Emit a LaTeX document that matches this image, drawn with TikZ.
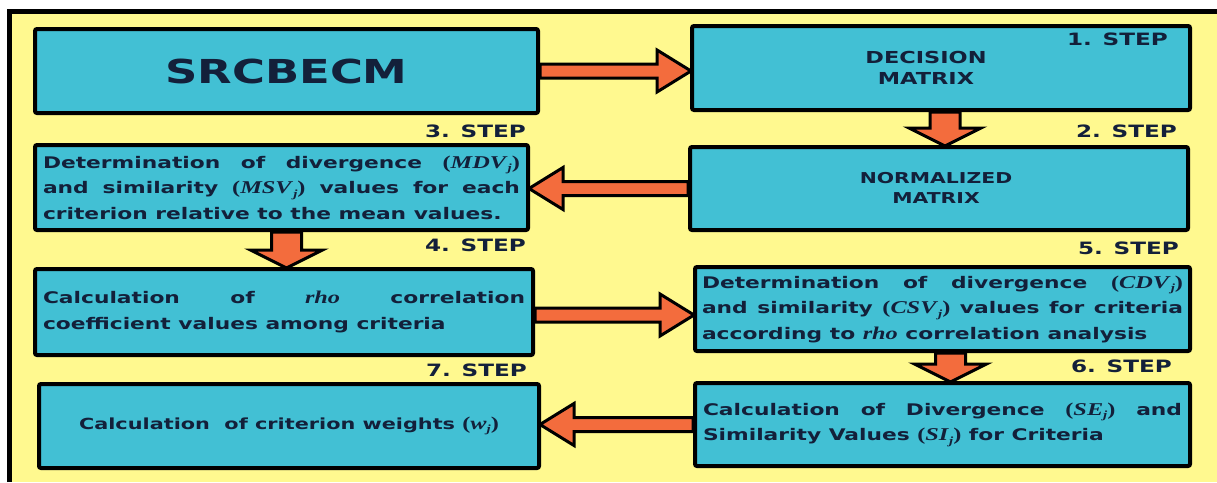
\documentclass[tikz,border=0pt]{standalone}
\usepackage{fontspec}
\setmainfont{DejaVu Sans}[FakeStretch=1.36]
\newfontfamily\mathlike{Liberation Serif}[FakeStretch=1.35]
\usepackage{graphicx}
\usetikzlibrary{calc}
\definecolor{bgyellow}{HTML}{FFF98F}
\definecolor{boxcyan}{HTML}{42C0D4}
\definecolor{arrowor}{HTML}{F36C3D}
\definecolor{navy}{HTML}{13203A}
\newcommand{\mth}[2]{{\mathlike\fontsize{18}{20}\selectfont\bfseries(\textit{#1}\raisebox{-3.5pt}{\fontsize{11}{11}\selectfont\textit{#2}})}}
\newcommand{\mthv}[1]{{\mathlike\fontsize{18}{20}\selectfont\bfseries\itshape #1}}
\newcommand{\bodyfnt}{\fontsize{16}{25.5}\selectfont\bfseries}
\newcommand{\stepfnt}{\fontsize{17}{20}\selectfont\bfseries}
\tikzset{
  box/.style={draw=black, line width=4pt, fill=boxcyan, rounded corners=2pt,
    inner sep=0pt, text=navy, font=\bodyfnt},
  jbox/.style={box, inner xsep=8pt, align=justify},
  steplbl/.style={font=\stepfnt, text=navy, anchor=base east, inner sep=0pt},
  caplbl/.style={text=navy, align=center, inner sep=0pt},
  barrow/.style={fill=arrowor, draw=black, line width=3pt, line join=miter},
}
\begin{document}
\begin{tikzpicture}[x=1pt,y=-1pt]
\useasboundingbox (0,0) rectangle (1217,482);
\fill[white] (0,0) rectangle (1217,482);
\fill[bgyellow] (9.5,11.5) rectangle (1217,482);
\draw[line width=4.5pt] (9.5,482) -- (9.5,11.5) -- (1217,11.5);

% boxes
\node[box, minimum width=503pt, minimum height=84pt] (A) at (286.5,71)
  {\fontsize{33}{40}\selectfont\bfseries SRCBECM};
\node[box, minimum width=498pt, minimum height=84pt] (B) at (941,68) {};
\node[caplbl, font=\fontsize{16.5}{21}\selectfont\bfseries] (Bt) at (926,68) {DECISION\\MATRIX};
\node[box, minimum width=498pt, minimum height=83pt] (B2) at (939,188.5) {};
\node[caplbl, font=\fontsize{15}{20}\selectfont\bfseries] (B2t) at (936,188) {NORMALIZED\\MATRIX};
\node[jbox, text width=477pt, minimum height=85pt] (C) at (281.5,187.5)
  {Determination of divergence \mth{MDV}{j}\linebreak
   and similarity \mth{MSV}{j} values for each\linebreak
   criterion relative to the mean values.};
\node[jbox, text width=482pt, minimum height=86pt] (D) at (284,312)
  {Calculation of \mthv{rho} correlation\linebreak
   coefficient values among criteria};
\node[jbox, text width=481pt, inner xsep=7pt, minimum height=84pt] (E) at (942.5,309)
  {Determination of divergence \mth{CDV}{j}\linebreak
   and similarity \mth{CSV}{j} values for criteria\linebreak
   according to \mthv{rho} correlation analysis};
\node[jbox, text width=479pt, minimum height=83pt] (F) at (942.5,424.5)
  {Calculation of Divergence \mth{SE}{j} and\linebreak
   Similarity Values \mth{SI}{j} for Criteria};
\node[box, minimum width=500pt, minimum height=84pt, font=\fontsize{15.3}{20}\selectfont\bfseries] (G) at (289,426)
  {Calculation\ \ of criterion weights \mth{w}{j}};

% step labels
\node[steplbl] (s1) at (1168,45) {1. STEP};
\node[steplbl] (s2) at (1177,137) {2. STEP};
\node[steplbl] (s3) at (526,137) {3. STEP};
\node[steplbl] (s4) at (526,251) {4. STEP};
\node[steplbl] (s5) at (1179,254) {5. STEP};
\node[steplbl] (s6) at (1172,372) {6. STEP};
\node[steplbl] (s7) at (527,376) {7. STEP};

% horizontal arrows (to the right)
\draw[barrow] let \p1=(A.east), \p2=(B.west) in
  (\x1,\y1+7pt) -- (\x2-33pt,\y1+7pt) -- (\x2-33pt,\y1+21pt) -- (\x2+1pt,\y1)
  -- (\x2-33pt,\y1-21pt) -- (\x2-33pt,\y1-7pt) -- (\x1,\y1-7pt) -- cycle;
\draw[barrow] let \p1=($(D.east)+(0,3)$), \p2=(E.west) in
  (\x1,\y1+7pt) -- (\x2-33pt,\y1+7pt) -- (\x2-33pt,\y1+21pt) -- (\x2+1pt,\y1)
  -- (\x2-33pt,\y1-21pt) -- (\x2-33pt,\y1-7pt) -- (\x1,\y1-7pt) -- cycle;
% horizontal arrows (to the left)
\draw[barrow] let \p1=(B2.west), \p2=(C.east) in
  (\x1,\y1+7pt) -- (\x2+33pt,\y1+7pt) -- (\x2+33pt,\y1+21pt) -- (\x2-1pt,\y1)
  -- (\x2+33pt,\y1-21pt) -- (\x2+33pt,\y1-7pt) -- (\x1,\y1-7pt) -- cycle;
\draw[barrow] let \p1=(F.west), \p2=(G.east) in
  (\x1,\y1+7pt) -- (\x2+33pt,\y1+7pt) -- (\x2+33pt,\y1+21pt) -- (\x2-1pt,\y1)
  -- (\x2+33pt,\y1-21pt) -- (\x2+33pt,\y1-7pt) -- (\x1,\y1-7pt) -- cycle;
% vertical arrows (down)
\draw[barrow] let \p1=($(B.south)+(4,0)$), \p2=(B2.north) in
  (\x1-15pt,\y1) -- (\x1-15pt,\y2+17pt) -- (\x1-36pt,\y2+17pt) -- (\x1,\y2-1pt)
  -- (\x1+36pt,\y2+17pt) -- (\x1+15pt,\y2+17pt) -- (\x1+15pt,\y1) -- cycle;
\draw[barrow] let \p1=($(C.south)+(5,0)$), \p2=(D.north) in
  (\x1-15pt,\y1) -- (\x1-15pt,\y2+17pt) -- (\x1-36pt,\y2+17pt) -- (\x1,\y2-1pt)
  -- (\x1+36pt,\y2+17pt) -- (\x1+15pt,\y2+17pt) -- (\x1+15pt,\y1) -- cycle;
\draw[barrow] let \p1=($(E.south)+(8,0)$), \p2=(F.north) in
  (\x1-15pt,\y1) -- (\x1-15pt,\y2+17pt) -- (\x1-36pt,\y2+17pt) -- (\x1,\y2-1pt)
  -- (\x1+36pt,\y2+17pt) -- (\x1+15pt,\y2+17pt) -- (\x1+15pt,\y1) -- cycle;
\end{tikzpicture}
\end{document}
